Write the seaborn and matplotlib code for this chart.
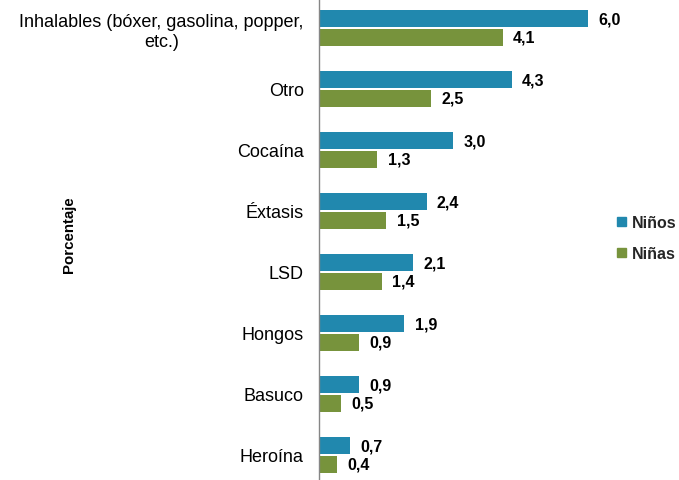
import pandas as pd
import seaborn as sns
import matplotlib.pyplot as plt

sustancias = ['Inhalables (bóxer, gasolina, popper,\netc.)', 'Otro', 'Cocaína', 'Éxtasis',
              'LSD', 'Hongos', 'Basuco', 'Heroína']
ninos = [6.0, 4.3, 3.0, 2.4, 2.1, 1.9, 0.9, 0.7]
ninas = [4.1, 2.5, 1.3, 1.5, 1.4, 0.9, 0.5, 0.4]
grupos = ['Niños', 'Niñas']
colores = ['#2188AE', '#77933C']

df = pd.DataFrame({
    'Sustancia': sustancias * 2,
    'Porcentaje': ninos + ninas,
    'Grupo': ['Niños'] * len(ninos) + ['Niñas'] * len(ninas),
})

sns.set_theme(style='white')
plt.rcParams['font.family'] = ['Liberation Sans', 'DejaVu Sans']

fig = plt.figure(figsize=(6.79, 4.81), dpi=100)
ax = fig.add_axes([319 / 679, -5.5 / 481, 281 / 679, 488 / 481])

sns.barplot(data=df, y='Sustancia', x='Porcentaje', hue='Grupo', hue_order=grupos,
            palette=colores, orient='h', width=0.62, gap=0.1, saturation=1,
            linewidth=0, legend=False, ax=ax)

for cont in ax.containers:
    ax.bar_label(cont, labels=[f'{v:.1f}'.replace('.', ',') for v in cont.datavalues],
                 padding=7.5, fontsize=11.5, fontweight='bold', color='black')

ax.set_xlim(0, 6.27)
ax.set_ylim(7.5, -0.5)
ax.set_xticks([])
ax.set_xlabel('')
ax.set_ylabel('')
ax.tick_params(axis='y', length=0, pad=11, labelsize=13, labelcolor='black')
for lbl in ax.get_yticklabels():
    lbl.set_multialignment('center')
for s in ['top', 'right', 'bottom']:
    ax.spines[s].set_visible(False)
ax.spines['left'].set_color('#868686')
ax.spines['left'].set_linewidth(1)

fig.text(69 / 679, 1 - 235 / 481, 'Porcentaje', rotation=90, ha='center', va='center',
         fontsize=10.8, fontweight='bold', color='black')

handles = [plt.Rectangle((0, 0), 1, 1, color=c) for c in colores]
leg = fig.legend(handles, grupos, loc='center left', bbox_to_anchor=(603 / 679, 1 - 239 / 481),
                 frameon=False, handlelength=0.55, handleheight=0.55, handletextpad=0.35,
                 labelspacing=1.0, prop={'weight': 'bold', 'size': 11.5})

fig.savefig('out.png', dpi=100)
